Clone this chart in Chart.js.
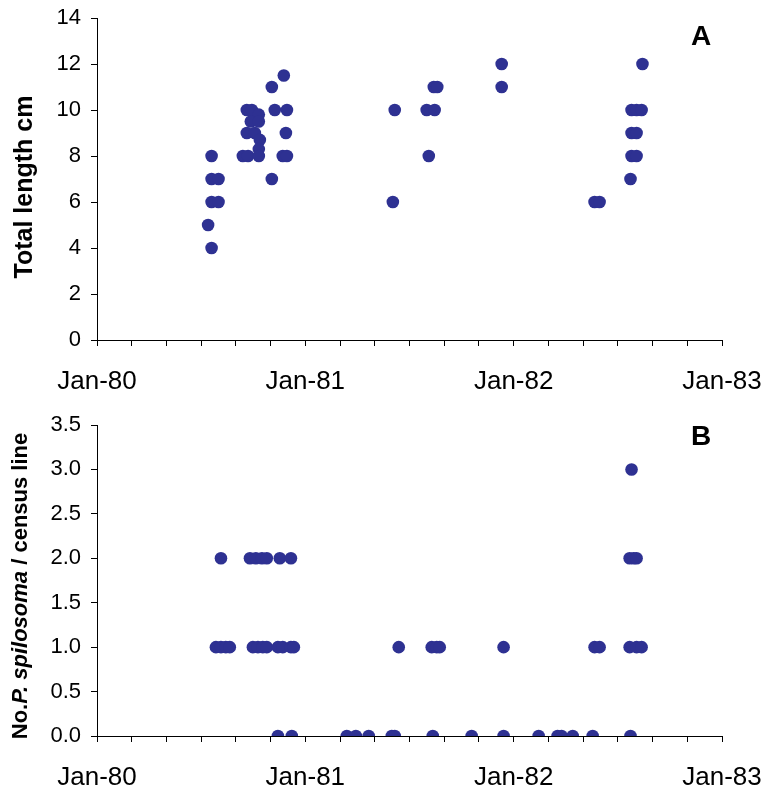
<!DOCTYPE html>
<html>
<head>
<meta charset="utf-8">
<script src="https://cdn.jsdelivr.net/npm/chart.js@4.4.1/dist/chart.umd.min.js"></script>
<style>
  html, body { margin: 0; padding: 0; background: #fff; }
  .box { position: relative; width: 764px; }
  #boxA { height: 400px; }
  #boxB { height: 386px; }
</style>
</head>
<body>
<div class="box" id="boxA"><canvas id="chartA"></canvas></div>
<div class="box" id="boxB"><canvas id="chartB"></canvas></div>
<script>
// x values are months since Jan-80
const yearLabels = ['Jan-80', 'Jan-81', 'Jan-82', 'Jan-83'];

// Panel A: total length (cm)
const lengthMonths = [6.4, 6.6, 6.6, 6.6, 6.6, 7.0, 7.0,
  8.4, 8.7, 8.63, 8.92, 9.32, 8.86, 9.32, 8.63, 9.09, 9.38, 9.32, 9.32,
  10.07, 10.07, 10.24, 10.76, 10.94, 10.88, 10.7, 10.94,
  17.04, 17.15, 18.99, 19.11, 19.45, 19.4, 19.6,
  23.31, 23.31,
  28.66, 28.95, 30.73, 30.79, 31.08, 30.79, 31.08, 30.79, 31.08, 31.37, 31.42];
const lengthCm = [5, 4, 6, 7, 8, 6, 7,
  8, 8, 10, 10, 9.8, 9.5, 9.5, 9, 9, 8.7, 8.3, 8,
  11, 7, 10, 11.5, 10, 9, 8, 8,
  6, 10, 10, 8, 10, 11, 11,
  12, 11,
  6, 6, 7, 8, 8, 9, 9, 10, 10, 10, 12];

// Panel B: number per census line
const countMonths = [7.14, 8.81, 9.15, 9.5, 9.78, 10.53, 11.17, 30.68, 30.91, 31.08,
  6.85, 7.14, 7.42, 7.65, 8.98, 9.27, 9.55, 9.78, 10.42, 10.7, 11.17, 11.34,
  17.38, 19.28, 19.57, 19.74, 23.42, 28.66, 28.95, 30.68, 31.08, 31.37,
  10.42, 11.22, 14.39, 14.91, 15.65, 16.98, 17.15, 19.34, 21.58, 23.42,
  25.44, 26.53, 26.76, 27.4, 28.55, 30.73,
  30.79];
const countValues = [2, 2, 2, 2, 2, 2, 2, 2, 2, 2,
  1, 1, 1, 1, 1, 1, 1, 1, 1, 1, 1, 1,
  1, 1, 1, 1, 1, 1, 1, 1, 1, 1,
  0, 0, 0, 0, 0, 0, 0, 0, 0, 0,
  0, 0, 0, 0, 0, 0,
  3];

const FONT = '"Liberation Sans", Arial, sans-serif';
const DOT  = '#2e3192';

const panelLabel = {
  id: 'panelLabel',
  afterDraw(chart, args, opts) {
    const ctx = chart.ctx;
    ctx.save();
    ctx.font = `bold 28px ${FONT}`;
    ctx.fillStyle = '#000';
    ctx.textAlign = 'center';
    ctx.textBaseline = 'middle';
    ctx.fillText(opts.text, opts.x, opts.y);
    ctx.restore();
  }
};

// rotated y title, parts can have their own font style (italic species name)
const mixedTitle = {
  id: 'mixedTitle',
  afterDraw(chart, args, opts) {
    if (!opts.parts) return;
    const ctx = chart.ctx;
    ctx.save();
    ctx.translate(opts.x, opts.y);
    ctx.rotate(-Math.PI / 2);
    ctx.fillStyle = '#000';
    ctx.textBaseline = 'middle';
    let total = 0;
    opts.parts.forEach(p => { ctx.font = `${p[1]} ${opts.size}px ${FONT}`; total += ctx.measureText(p[0]).width; });
    let x = -total / 2;
    opts.parts.forEach(p => {
      ctx.font = `${p[1]} ${opts.size}px ${FONT}`;
      ctx.fillText(p[0], x, 0);
      x += ctx.measureText(p[0]).width;
    });
    ctx.restore();
  }
};

function xAxis(h) {
  return {
    type: 'linear', min: 0, max: 36,
    afterFit: s => { s.height = h; s.paddingLeft = 0; s.paddingRight = 0; },
    ticks: {
      stepSize: 2, autoSkip: false, maxRotation: 0, padding: 20,
      color: '#000', font: { family: FONT, size: 26 },
      callback: v => (v % 12 === 0 ? yearLabels[v / 12] : '')
    },
    grid: { drawOnChartArea: false, drawTicks: true, tickLength: 6, color: '#000' },
    border: { color: '#000', width: 1 }
  };
}

function yAxis(max, step, fmt) {
  return {
    min: 0, max: max,
    afterFit: s => { s.width = 97; s.paddingTop = 0; s.paddingBottom = 0; },
    ticks: {
      stepSize: step, padding: 10, color: '#000',
      font: { family: FONT, size: 22 }, callback: fmt
    },
    grid: { drawOnChartArea: false, drawTicks: true, tickLength: 6, color: '#000' },
    border: { color: '#000', width: 1 }
  };
}

function makeChart(id, xs, ys, x, y, padTop, letter, titleOpts) {
  return new Chart(document.getElementById(id), {
    type: 'scatter',
    data: {
      datasets: [{
        data: xs.map((m, i) => ({ x: m, y: ys[i] })),
        backgroundColor: DOT, borderWidth: 0, pointRadius: 6.3, pointHoverRadius: 6.3
      }]
    },
    options: {
      responsive: true, maintainAspectRatio: false, animation: false,
      layout: { padding: { top: padTop, right: 42, left: 0, bottom: 0 } },
      scales: { x: x, y: y },
      plugins: {
        legend: { display: false },
        tooltip: { enabled: false },
        panelLabel: { text: letter, x: 701, y: 37 },
        mixedTitle: titleOpts
      }
    },
    plugins: [panelLabel, mixedTitle]
  });
}

makeChart('chartA', lengthMonths, lengthCm, xAxis(60),
  yAxis(14, 2, v => v), 18, 'A',
  { x: 25, y: 187, size: 25, parts: [['Total length cm', 'bold']] });

makeChart('chartB', countMonths, countValues, xAxis(50),
  yAxis(3.5, 0.5, v => Number(v).toFixed(1)), 25, 'B',
  { x: 21, y: 186, size: 22, parts: [['No.', 'bold'], ['P. spilosoma', 'italic bold'], [' / census line', 'bold']] });
</script>
</body>
</html>
